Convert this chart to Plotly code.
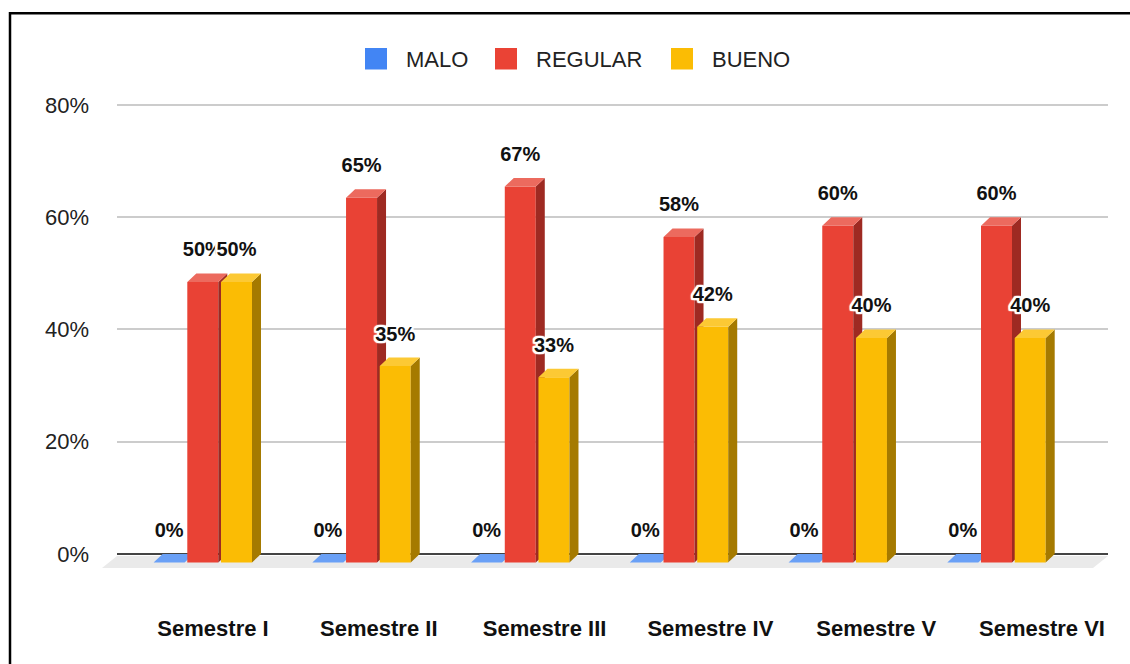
import plotly.graph_objects as go

# ---------------- data ----------------
categories = ["Semestre I", "Semestre II", "Semestre III", "Semestre IV", "Semestre V", "Semestre VI"]
series_names = ["MALO", "REGULAR", "BUENO"]
malo = [0, 0, 0, 0, 0, 0]
regular = [50, 65, 67, 58, 60, 60]
bueno = [50, 35, 33, 42, 40, 40]
y_ticks = [0, 20, 40, 60, 80]

# ---------------- style ----------------
W, H = 1130, 664
front_col = ["#4285F4", "#E94235", "#FBBC04"]
top_col = ["#6AA0F6", "#EC6A5E", "#FCC934"]
side_col = ["#2F5FB0", "#9E2A22", "#A57A00"]
legend_col = ["#4285F4", "#EA4335", "#FBBC04"]
FONT = "Arial, 'Liberation Sans', sans-serif"


def px(x):
    return x / W


def py(y):
    return 1 - y / H


# vertical scale
Y0 = 554.0
PPU = (554.0 - 105.0) / 80.0  # px per percent
YMIN, YMAX = -8, 82
ydom = [py(Y0 - YMIN * PPU), py(Y0 - YMAX * PPU)]

# horizontal scale for bars (xaxis2 spans whole figure)
C0 = 202.8
UNIT = 158.74
x2range = [-C0 / UNIT, (W - C0) / UNIT]
BW = 31 / UNIT
PITCH = 33.7 / UNIT
DX = 9 / UNIT
DY = 8.5 / PPU
offsets = [-PITCH, 0, PITCH]

# labels axis
L0 = 213.0
LUNIT = 165.8
xdom = [px(117), px(1108)]
xrange = [-(L0 - 117) / LUNIT, -(L0 - 117) / LUNIT + (1108 - 117) / LUNIT]

fig = go.Figure()

# invisible trace to create the grid subplot
fig.add_trace(go.Scatter(x=[0], y=[0], mode="markers", marker=dict(opacity=0),
                         showlegend=False, hoverinfo="skip", xaxis="x", yaxis="y"))

all_series = [malo, regular, bueno]
for s, vals in enumerate(all_series):
    fx, fy, tx, ty, sx, sy = [], [], [], [], [], []
    for i, v in enumerate(vals):
        xl = i + offsets[s] - BW / 2
        xr = i + offsets[s] + BW / 2
        fx += [xl, xr, xr, xl, xl, None]
        fy += [-DY, -DY, v - DY, v - DY, -DY, None]
        tx += [xl, xr, xr + DX, xl + DX, xl, None]
        ty += [v - DY, v - DY, v, v, v - DY, None]
        sx += [xr, xr + DX, xr + DX, xr, xr, None]
        sy += [-DY, 0, v, v - DY, -DY, None]
    for xs, ys, col in [(fx, fy, front_col[s]), (sx, sy, side_col[s]), (tx, ty, top_col[s])]:
        fig.add_trace(go.Scatter(x=xs, y=ys, fill="toself", fillcolor=col, mode="lines",
                                 line=dict(width=0, color=col), showlegend=False,
                                 hoverinfo="skip", xaxis="x2", yaxis="y2",
                                 name=series_names[s]))

halo = ",".join([f"{a}px {b}px 1px #fff" for a in (-2, -1, 0, 1, 2) for b in (-2, -1, 0, 1, 2)])
LABEL_OFF = 22.0 / PPU
for s, vals in enumerate(all_series):
    fig.add_trace(go.Scatter(
        x=[i + offsets[s] for i in range(len(vals))],
        y=[v + LABEL_OFF for v in vals],
        text=[f"{v}%" for v in vals],
        mode="text", textposition="middle center",
        textfont=dict(family=FONT, size=20, color="#111111", weight="bold", shadow=halo),
        cliponaxis=False, showlegend=False, hoverinfo="skip",
        xaxis="x2", yaxis="y2"))

shapes = []
# floor
shapes.append(dict(type="path", xref="paper", yref="paper", layer="below",
                   path=f"M {px(102)},{py(568)} L {px(1093)},{py(568)} L {px(1108)},{py(556)} L {px(117)},{py(556)} Z",
                   fillcolor="#EAEAEA", line=dict(width=0)))
# border
shapes.append(dict(type="rect", xref="paper", yref="paper", layer="above",
                   x0=px(10), x1=px(1160), y0=py(13.3), y1=py(700),
                   line=dict(color="#000000", width=2.5), fillcolor="rgba(0,0,0,0)"))

annotations = []
leg_sq = [365, 495, 671]
leg_tx = [404, 534, 710]
for s, name in enumerate(series_names):
    shapes.append(dict(type="rect", xref="paper", yref="paper",
                       x0=px(leg_sq[s]), x1=px(leg_sq[s] + 22), y0=py(48), y1=py(69.5),
                       fillcolor=legend_col[s], line=dict(width=0)))
    annotations.append(dict(xref="paper", yref="paper", x=px(leg_tx[s]), y=py(59),
                            xanchor="left", yanchor="middle", showarrow=False, text=name,
                            font=dict(family=FONT, size=22, color="#222222")))

fig.update_layout(
    width=W, height=H,
    margin=dict(l=0, r=0, t=0, b=0),
    paper_bgcolor="white", plot_bgcolor="rgba(0,0,0,0)",
    showlegend=False,
    shapes=shapes, annotations=annotations,
    xaxis=dict(domain=xdom, range=xrange, tickmode="array",
               tickvals=list(range(len(categories))), ticktext=categories,
               showgrid=False, zeroline=False, showline=False, ticks="",
               ticklabelstandoff=14,
               tickfont=dict(family=FONT, size=22, color="#111111", weight="bold"),
               anchor="y", fixedrange=True),
    yaxis=dict(domain=ydom, range=[YMIN, YMAX], tickmode="array", tickvals=y_ticks,
               ticktext=[f"{t}%" for t in y_ticks],
               showgrid=True, gridcolor="#CCCCCC", gridwidth=1.5,
               zeroline=True, zerolinecolor="#444444", zerolinewidth=2,
               showline=False, ticks="", ticklabelstandoff=27,
               tickfont=dict(family=FONT, size=22, color="#222222"),
               anchor="x", fixedrange=True),
    xaxis2=dict(domain=[0, 1], range=x2range, visible=False, anchor="y2", fixedrange=True),
    yaxis2=dict(domain=ydom, range=[YMIN, YMAX], visible=False, anchor="x2", fixedrange=True),
)

fig.write_html("out.html", config={"displayModeBar": False},
               post_script="document.body.style.margin='0';document.body.style.overflow='hidden';")
